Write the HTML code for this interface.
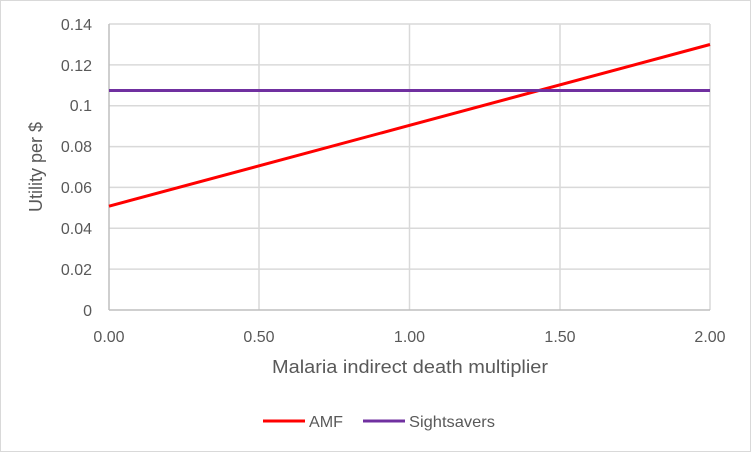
<!DOCTYPE html>
<html><head><style>
body{margin:0;background:#fff;}
svg text{font-family:"Liberation Sans",sans-serif;fill:#595959;}
</style></head><body>
<svg width="751" height="452" viewBox="0 0 751 452" xmlns="http://www.w3.org/2000/svg">
<rect x="0.5" y="0.5" width="750" height="451" fill="#fff" stroke="#d9d9d9"/>
<g stroke="#d9d9d9" stroke-width="1.5">
<line x1="109" y1="24" x2="710" y2="24"/>
<line x1="109" y1="64.9" x2="710" y2="64.9"/>
<line x1="109" y1="105.7" x2="710" y2="105.7"/>
<line x1="109" y1="146.6" x2="710" y2="146.6"/>
<line x1="109" y1="187.4" x2="710" y2="187.4"/>
<line x1="109" y1="228.3" x2="710" y2="228.3"/>
<line x1="109" y1="269.1" x2="710" y2="269.1"/>
<line x1="259" y1="24" x2="259" y2="310"/>
<line x1="409.5" y1="24" x2="409.5" y2="310"/>
<line x1="560" y1="24" x2="560" y2="310"/>
<line x1="710" y1="24" x2="710" y2="310"/>
</g>
<line x1="109" y1="24" x2="109" y2="310" stroke="#bfbfbf" stroke-width="1.5"/>
<line x1="109" y1="310" x2="710" y2="310" stroke="#bfbfbf" stroke-width="1.5"/>
<line x1="109" y1="206.2" x2="710" y2="44.5" stroke="#ff0000" stroke-width="3"/>
<line x1="109" y1="90.5" x2="710" y2="90.5" stroke="#7030a0" stroke-width="3"/>
<g font-size="16" text-anchor="end">
<text x="92" y="30">0.14</text>
<text x="92" y="71">0.12</text>
<text x="92" y="111">0.1</text>
<text x="92" y="152">0.08</text>
<text x="92" y="193">0.06</text>
<text x="92" y="234">0.04</text>
<text x="92" y="275">0.02</text>
<text x="92" y="316">0</text>
</g>
<g font-size="16" text-anchor="middle">
<text x="109" y="342">0.00</text>
<text x="259" y="342">0.50</text>
<text x="409.5" y="342">1.00</text>
<text x="560" y="342">1.50</text>
<text x="710" y="342">2.00</text>
</g>
<text x="272" y="373" font-size="18" textLength="276" lengthAdjust="spacingAndGlyphs">Malaria indirect death multiplier</text>
<text transform="translate(42,167) rotate(-90)" font-size="18" text-anchor="middle">Utility per $</text>
<line x1="263" y1="421" x2="305" y2="421" stroke="#ff0000" stroke-width="3"/>
<text x="309" y="427" font-size="16" textLength="34" lengthAdjust="spacingAndGlyphs">AMF</text>
<line x1="363" y1="421" x2="405" y2="421" stroke="#7030a0" stroke-width="3"/>
<text x="409" y="427" font-size="16" textLength="86" lengthAdjust="spacingAndGlyphs">Sightsavers</text>
</svg>
</body></html>
